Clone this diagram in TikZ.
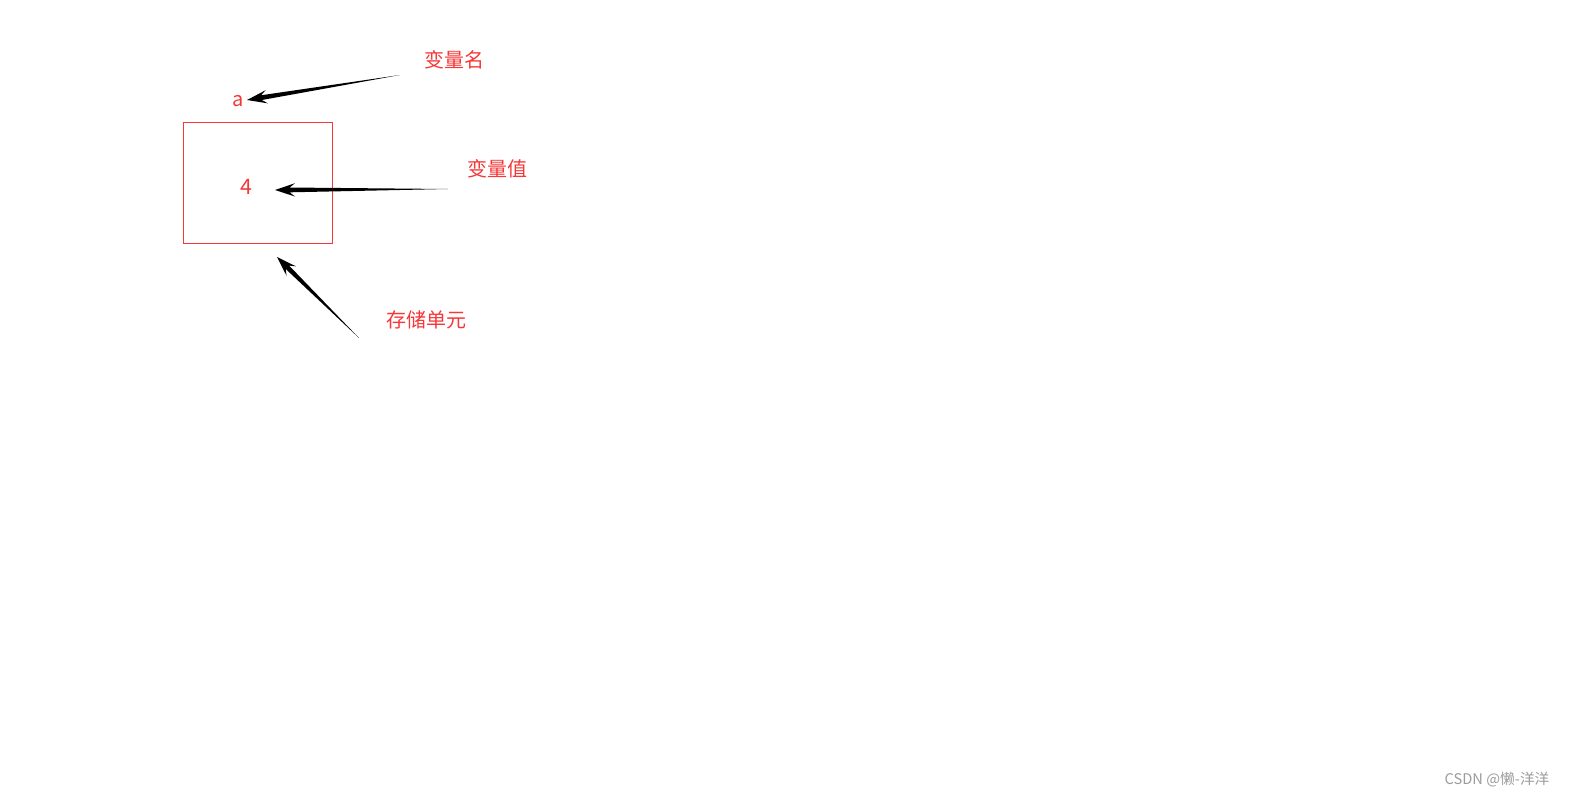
\documentclass[tikz,border=0pt]{standalone}
\usepackage{fontspec}
\setmainfont{Noto Sans CJK SC}
\usetikzlibrary{calc}

\definecolor{labelred}{RGB}{245,55,55}
\definecolor{markgray}{RGB}{155,155,155}

\tikzset{
  lbl/.style={text=labelred, inner sep=0.75pt, font=\fontsize{15}{18}\selectfont},
  val/.style={text=labelred, inner sep=0.75pt, font=\fontsize{16}{19}\selectfont},
  taper/.style={fill=black}
}

% tapered arrow from #1 (thin tail) to #2 (tip)
\newcommand{\taperarrow}[2]{%
  \path ($(#2)!15pt!(#1)$) coordinate (hb) ($(#2)!11pt!(#1)$) coordinate (nb);
  \fill[taper] (#1) -- ($(nb)!1.8pt!90:(#1)$) -- ($(hb)!5pt!90:(#1)$) -- (#2)
    -- ($(hb)!5pt!-90:(#1)$) -- ($(nb)!1.8pt!-90:(#1)$) -- cycle;
}

\begin{document}
\begin{tikzpicture}[x=0.75pt,y=0.75pt,yscale=-1,xscale=1]
\useasboundingbox (0,0) rectangle (1586,807);

% Storage cell
\node (cell) [draw=labelred, line width=0.75pt, minimum width=111.75pt, minimum height=90.75pt, inner sep=0pt] at (257.5,182.5) {};

% Text Node
\node (vname) [val, font=\fontsize{15}{18}\selectfont] at (238,101) {a};
% Text Node
\node (vvalue) [val] at (246,187) {4};
% Text Node
\node (namelbl) [lbl] at (454,60) {变量名};
% Text Node
\node (valuelbl) [lbl] at (497,169) {变量值};
% Text Node
\node (celllbl) [lbl] at (426,320) {存储单元};
% Text Node
\node (mark) [text=markgray, inner sep=0.75pt, font=\fontsize{11}{13}\selectfont] at (1497,780) {CSDN @懒-洋洋};

% Arrow ends
\coordinate (nametail) at (400,75);
\coordinate (nametip) at (247,100);
\coordinate (valuetail) at (448,189);
\coordinate (valuetip) at (275,190);
\coordinate (celltail) at (359,338);
\coordinate (celltip) at (277,257);

\taperarrow{nametail}{nametip}
\taperarrow{valuetail}{valuetip}
\taperarrow{celltail}{celltip}
\end{tikzpicture}
\end{document}
